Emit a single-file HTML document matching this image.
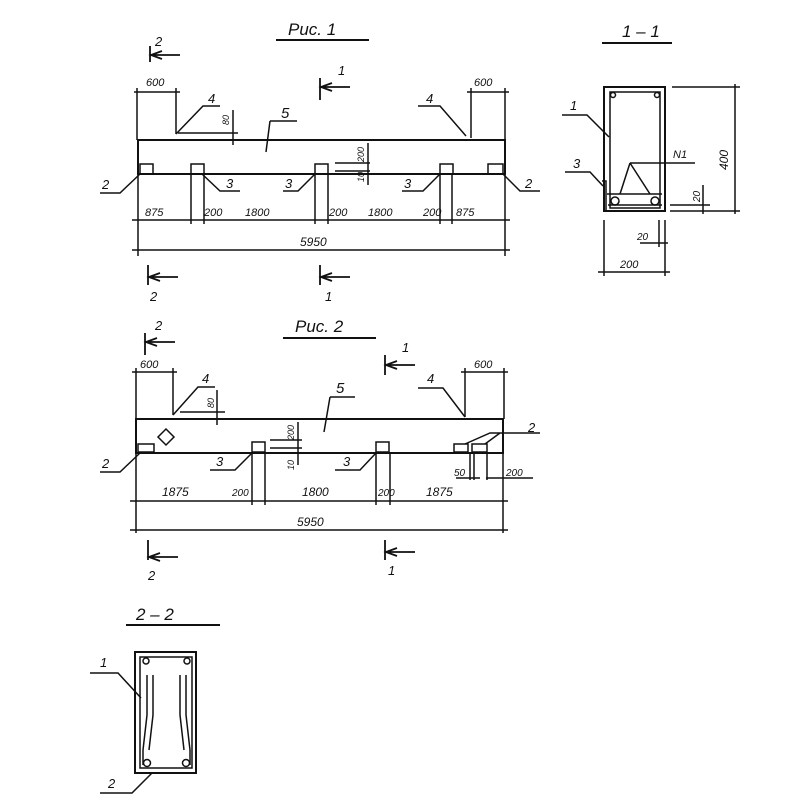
<!DOCTYPE html>
<html><head><meta charset="utf-8"><style>
html,body{margin:0;padding:0;background:#fff}
svg{display:block}
text{font-family:"Liberation Sans",sans-serif;font-style:italic;fill:#111}
</style></head><body>
<svg width="800" height="800" viewBox="0 0 800 800" xmlns="http://www.w3.org/2000/svg">
<g stroke="#111" fill="none" stroke-width="1.5">
<!-- ===== Fig 1 ===== -->
<line x1="276" y1="40" x2="369" y2="40" stroke-width="2"/>
<path d="M150 46V62M151 55H180M162 51L151 55L162 59" stroke-width="1.8"/>
<path d="M320 78V100M321 87H350M332 83L321 87L332 91" stroke-width="1.8"/>
<path d="M148 265V285M149 277H178M160 273L149 277L160 281" stroke-width="1.8"/>
<path d="M320 265V285M321 277H350M332 273L321 277L332 281" stroke-width="1.8"/>
<rect x="138" y="140" width="367" height="34" stroke-width="2"/>
<rect x="140" y="164" width="13" height="10"/>
<rect x="191" y="164" width="13" height="10"/>
<rect x="315" y="164" width="13" height="10"/>
<rect x="440" y="164" width="13" height="10"/>
<rect x="488" y="164" width="15" height="10"/>
<path d="M137 88V140M176 88V134M134 92H180M471 88V138M505 88V140M467 92H509"/>
<path d="M176 134L203 106H220M466 136L440 106H418"/>
<path d="M178 133H238M233 110V145"/>
<path d="M270 121H297M270 121L266 152"/>
<path d="M335 163H370M335 171H370M368 143V185"/>
<path d="M140 174L120 193H100M202 174L220 191H240M315 174L298 191H283M440 174L423 191H402M503 174L520 191H540"/>
<path d="M138 174V256M191 174V224M204 174V224M315 174V224M328 174V224M440 174V224M452 174V224M505 174V256"/>
<path d="M132 220H510M132 250H510"/>
<!-- ===== Fig 2 ===== -->
<line x1="283" y1="338" x2="376" y2="338" stroke-width="2"/>
<path d="M145 333V355M146 342H175M157 338L146 342L157 346" stroke-width="1.8"/>
<path d="M385 355V375M386 365H415M397 361L386 365L397 369" stroke-width="1.8"/>
<path d="M148 540V560M149 557H178M160 553L149 557L160 561" stroke-width="1.8"/>
<path d="M385 540V560M386 552H415M397 548L386 552L397 556" stroke-width="1.8"/>
<rect x="136" y="419" width="367" height="34" stroke-width="2"/>
<rect x="138" y="444" width="16" height="8"/>
<rect x="252" y="442" width="13" height="10"/>
<rect x="376" y="442" width="13" height="10"/>
<rect x="454" y="444" width="14" height="8"/>
<rect x="472" y="444" width="15" height="8"/>
<path d="M166 429L174 437L166 445L158 437Z"/>
<path d="M136 368V419M173 368V415M132 372H177M465 368V417M504 368V419M461 372H508"/>
<path d="M173 415L198 387H215M465 417L443 388H418"/>
<path d="M180 412H225M217 390V425"/>
<path d="M330 397H355M330 397L324 432"/>
<path d="M270 440H302M270 448H302M298 422V465"/>
<path d="M140 453L120 472H100M252 453L235 470H210M376 453L360 470H335"/>
<path d="M465 444L490 433H540M485 444L500 433"/>
<path d="M470 453V480M474 453V480M456 478H480M487 453V480M486 478H533"/>
<path d="M136 453V533M252 453V505M265 453V505M376 453V505M390 453V505M503 453V533"/>
<path d="M130 501H508M130 530H508"/>
<!-- ===== 1-1 ===== -->
<line x1="602" y1="43" x2="672" y2="43" stroke-width="2"/>
<rect x="604" y="87" width="61" height="124" stroke-width="2"/>
<path d="M610 92H660V208H610Z"/>
<path d="M607 194H662M608 205H662"/>
<circle cx="613" cy="95" r="2.5"/><circle cx="657" cy="95" r="2.5"/>
<circle cx="615" cy="201" r="4"/><circle cx="655" cy="201" r="4"/>
<path d="M602 181H606V211"/>
<path d="M672 87H740M670 211H740M735 84V214M670 205H710M703 185V214"/>
<path d="M630 163H695M630 163L620 194M630 163L650 194"/>
<path d="M562 115H587L609 137M565 172H590L603 186"/>
<path d="M604 220V276M665 220V276M598 272H670M659 220V247M640 243H668"/>
<!-- ===== 2-2 ===== -->
<line x1="126" y1="625" x2="220" y2="625" stroke-width="2"/>
<rect x="135" y="652" width="61" height="121" stroke-width="2"/>
<path d="M140 657H192V768H140Z"/>
<circle cx="146" cy="661" r="3"/><circle cx="187" cy="661" r="3"/>
<circle cx="147" cy="763" r="3.5"/><circle cx="186" cy="763" r="3.5"/>
<path d="M147 675V715L143 750V765M153 675V715L149 750M186 675V715L190 750V765M180 675V715L184 750"/>
<path d="M90 673H118L141 698M100 793H132L152 773"/>
</g>
<g font-size="13">
<text x="288" y="35" font-size="17">Рис. 1</text>
<text x="155" y="46">2</text><text x="338" y="75">1</text>
<text x="146" y="86" font-size="11">600</text><text x="474" y="86" font-size="11">600</text>
<text x="208" y="103">4</text><text x="426" y="103">4</text>
<text x="281" y="118" font-size="15">5</text>
<text x="102" y="189">2</text><text x="226" y="188">3</text><text x="285" y="188">3</text><text x="404" y="188">3</text><text x="525" y="188">2</text>
<text x="145" y="216" font-size="11">875</text><text x="204" y="216" font-size="11">200</text><text x="245" y="216" font-size="11">1800</text>
<text x="329" y="216" font-size="11">200</text><text x="368" y="216" font-size="11">1800</text><text x="423" y="216" font-size="11">200</text><text x="456" y="216" font-size="11">875</text>
<text x="300" y="246" font-size="12">5950</text>
<text x="150" y="301">2</text><text x="325" y="301">1</text>
<text x="295" y="332" font-size="17">Рис. 2</text>
<text x="155" y="330">2</text><text x="402" y="352">1</text>
<text x="140" y="368" font-size="11">600</text><text x="474" y="368" font-size="11">600</text>
<text x="202" y="383">4</text><text x="427" y="383">4</text>
<text x="336" y="393" font-size="15">5</text>
<text x="102" y="468">2</text><text x="216" y="466">3</text><text x="343" y="466">3</text><text x="528" y="432">2</text>
<text x="454" y="476" font-size="10">50</text><text x="506" y="476" font-size="10">200</text>
<text x="162" y="496" font-size="12">1875</text><text x="232" y="496" font-size="10">200</text><text x="302" y="496" font-size="12">1800</text>
<text x="378" y="496" font-size="10">200</text><text x="426" y="496" font-size="12">1875</text>
<text x="297" y="526" font-size="12">5950</text>
<text x="148" y="580">2</text><text x="388" y="575">1</text>
<text x="622" y="37" font-size="17">1 – 1</text>
<text x="570" y="110">1</text><text x="573" y="168">3</text>
<text x="673" y="158" font-size="11">N1</text>
<text x="637" y="240" font-size="10">20</text>
<text x="620" y="268" font-size="11">200</text>
<text x="136" y="620" font-size="17">2 – 2</text>
<text x="100" y="667">1</text><text x="108" y="788">2</text>
</g>
<g font-size="9">
<text transform="translate(229,125) rotate(-90)">80</text>
<text transform="translate(364,162) rotate(-90)">200</text>
<text transform="translate(364,182) rotate(-90)">10</text>
<text transform="translate(214,408) rotate(-90)">80</text>
<text transform="translate(294,440) rotate(-90)">200</text>
<text transform="translate(294,470) rotate(-90)">10</text>
<text transform="translate(728,170) rotate(-90)" font-size="12">400</text>
<text transform="translate(700,202) rotate(-90)" font-size="10">20</text>
</g>
</svg>
</body></html>
